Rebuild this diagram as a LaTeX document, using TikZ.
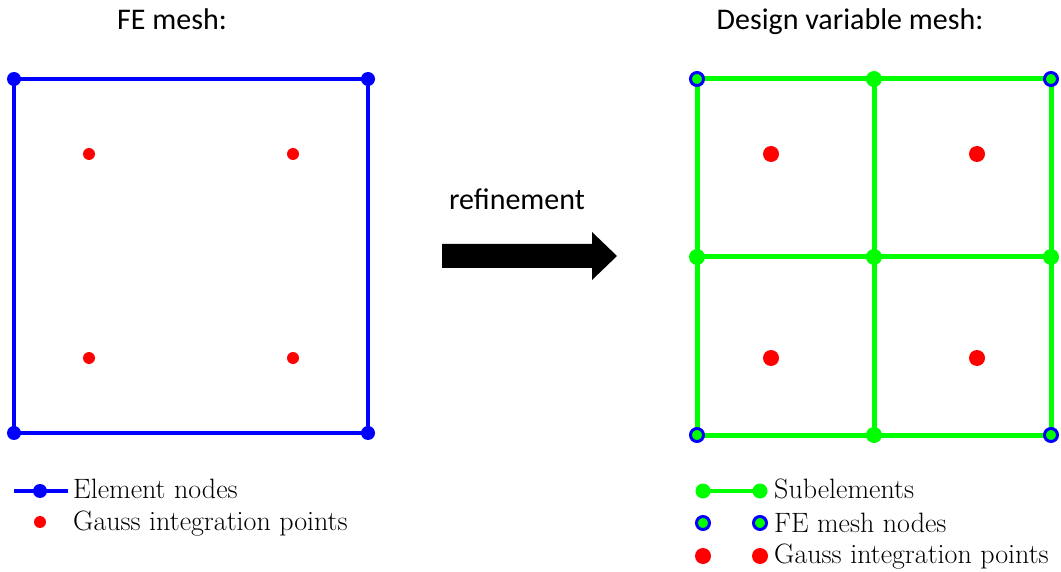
\documentclass[tikz,border=0pt]{standalone}
\usepackage{fontspec}
\setmainfont{Latin Modern Roman}
\newfontfamily\calibri{Carlito}
\begin{document}
\begin{tikzpicture}[x=1pt,y=-1pt,
  bluenode/.style={circle,fill=blue,inner sep=0pt,minimum size=14pt},
  gaussL/.style={circle,fill=red,inner sep=0pt,minimum size=12pt},
  gaussR/.style={circle,fill=red,inner sep=0pt,minimum size=16pt},
  greennode/.style={circle,fill=green,inner sep=0pt,minimum size=16pt},
  ringnode/.style={circle,fill=green,draw=blue,line width=3pt,inner sep=0pt,minimum size=13pt},
  blueline/.style={draw=blue,line width=4pt},
  greenline/.style={draw=green,line width=5pt},
  title/.style={font=\calibri\fontsize{30}{36}\selectfont,anchor=base},
  legtext/.style={font=\fontsize{28}{32}\selectfont,anchor=base west,inner sep=0pt}]
\useasboundingbox (0,0) rectangle (1061,572);
% ---- titles
\node[title] (t1) at (172,30) {FE mesh:};
\node[title] (t2) at (850,30) {Design variable mesh:};
% ---- left element
\coordinate (A1) at (14,79);
\coordinate (A2) at (368,79);
\coordinate (A3) at (368,433);
\coordinate (A4) at (14,433);
\draw[blueline] (A1) -- (A2) -- (A3) -- (A4) -- cycle;
\foreach \c in {A1,A2,A3,A4} \node[bluenode] (n\c) at (\c) {};
\node[gaussL] (g1) at (89,154) {};
\node[gaussL] (g2) at (293,154) {};
\node[gaussL] (g3) at (89,358) {};
\node[gaussL] (g4) at (293,358) {};
% ---- arrow
\node[title] (ref) at (517,210) {refinement};
\fill[black] (442,244) -- (592,244) -- (592,232) -- (617,256) -- (592,280) -- (592,268) -- (442,268) -- cycle;
% ---- right element
\coordinate (B1) at (697,79);
\coordinate (B2) at (874,79);
\coordinate (B3) at (1051,79);
\coordinate (B4) at (697,257);
\coordinate (B5) at (874,257);
\coordinate (B6) at (1051,257);
\coordinate (B7) at (697,435);
\coordinate (B8) at (874,435);
\coordinate (B9) at (1051,435);
\draw[greenline] (B1) -- (B3) -- (B9) -- (B7) -- cycle;
\draw[greenline] (B2) -- (B8);
\draw[greenline] (B4) -- (B6);
\foreach \c in {B2,B4,B5,B6,B8} \node[greennode] (n\c) at (\c) {};
\foreach \c in {B1,B3,B7,B9} \node[ringnode] (n\c) at (\c) {};
\node[gaussR] (h1) at (771,154) {};
\node[gaussR] (h2) at (977,154) {};
\node[gaussR] (h3) at (771,358) {};
\node[gaussR] (h4) at (977,358) {};
% ---- left legend
\coordinate (L1) at (14,491);
\coordinate (L2) at (68,491);
\draw[blueline] (L1) -- (L2);
\node[bluenode] (ln1) at (40,491) {};
\node[gaussL] (lg1) at (40,522) {};
\node[legtext] (lt1) at (73,498) {Element nodes};
\node[legtext] (lt2) at (73,530) {Gauss integration points};
% ---- right legend
\coordinate (R1) at (703,491);
\coordinate (R2) at (760,491);
\draw[greenline,line width=4pt] (R1) -- (R2);
\node[greennode,minimum size=15pt] (r1a) at (R1) {};
\node[greennode,minimum size=15pt] (r1b) at (R2) {};
\node[ringnode] (r2a) at (703,523) {};
\node[ringnode] (r2b) at (760,523) {};
\node[gaussR] (r3a) at (703,556) {};
\node[gaussR] (r3b) at (760,556) {};
\node[legtext] (rt1) at (774,498) {Subelements};
\node[legtext] (rt2) at (774,532) {FE mesh nodes};
\node[legtext] (rt3) at (774,563) {Gauss integration points};
\end{tikzpicture}
\end{document}
